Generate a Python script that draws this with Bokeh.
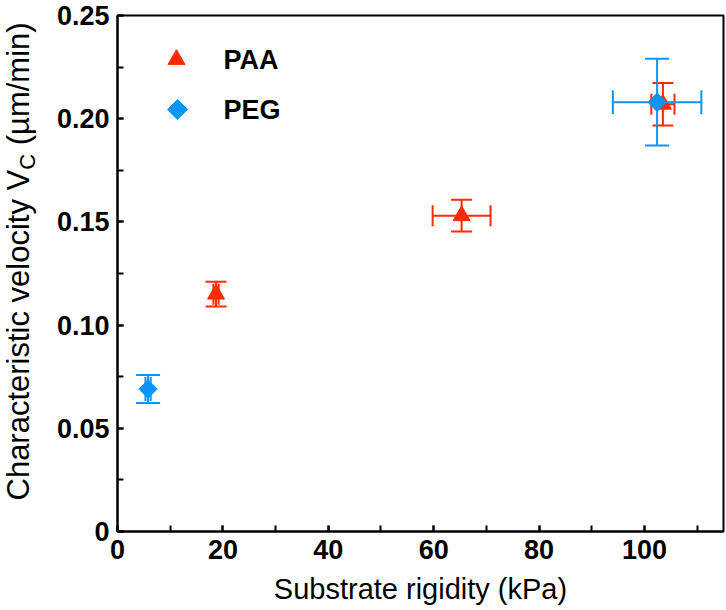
import math
from bokeh.plotting import figure
from bokeh.layouts import row
from bokeh.models import (ColumnDataSource, Whisker, TeeHead, FixedTicker, NumeralTickFormatter,
                          Label, Range1d)
from bokeh.embed import file_html
from bokeh.resources import INLINE

# ---- data ----
paa_x = [18.7, 65.3, 103.5]
paa_y = [0.115, 0.153, 0.207]
paa_xerr = [0.5, 5.5, 2.2]
paa_yerr = [0.006, 0.0077, 0.0103]

peg_x = [5.8, 102.4]
peg_y = [0.069, 0.208]
peg_xerr = [0.5, 8.4]
peg_yerr = [0.0068, 0.021]

x_ticks = [0, 20, 40, 60, 80, 100]
y_ticks = [0, 0.05, 0.10, 0.15, 0.20, 0.25]
series_names = ["PAA", "PEG"]

RED = "#ff2a00"
BLUE = "#0a96f8"
FONT = "Liberation Sans"

# ---- geometry ----
LEFT_W = 40             # width of the y-label strip
W, H = 726, 610
FL, FR, FT, FB = 117, 723, 15, 531   # frame edges in page pixels
XMAX, YMAX = 115, 0.25


def make_src(x, y, xe, ye):
    return ColumnDataSource(dict(
        x=x, y=y,
        xlo=[a - e for a, e in zip(x, xe)], xhi=[a + e for a, e in zip(x, xe)],
        ylo=[a - e for a, e in zip(y, ye)], yhi=[a + e for a, e in zip(y, ye)],
    ))


src_paa = make_src(paa_x, paa_y, paa_xerr, paa_yerr)
src_peg = make_src(peg_x, peg_y, peg_xerr, peg_yerr)

p = figure(width=W - LEFT_W, height=H, output_backend="svg", toolbar_location=None,
           x_range=Range1d(0, XMAX), y_range=Range1d(0, YMAX),
           min_border_left=FL - LEFT_W, min_border_right=W - FR, min_border_top=FT,
           min_border_bottom=H - FB)
p.grid.visible = False
p.outline_line_color = "black"
p.outline_line_width = 2
p.background_fill_color = "white"
p.border_fill_color = "white"

for ax in (p.xaxis[0], p.yaxis[0]):
    ax.axis_line_width = 2
    ax.axis_line_color = "black"
    ax.major_tick_in = 6
    ax.major_tick_out = 0
    ax.minor_tick_in = 6
    ax.minor_tick_out = 0
    ax.major_tick_line_width = 2
    ax.minor_tick_line_width = 2
    ax.major_label_text_font = FONT
    ax.major_label_text_font_style = "bold"
    ax.major_label_text_font_size = "27px"
    ax.major_label_text_color = "black"
    ax.major_label_standoff = 8

p.xaxis.ticker = FixedTicker(ticks=x_ticks, minor_ticks=list(range(0, 120, 10)))
p.yaxis.ticker = FixedTicker(ticks=y_ticks, minor_ticks=[i * 0.025 for i in range(11)])
p.yaxis.formatter = NumeralTickFormatter(format="0.00")
p.yaxis.major_label_overrides = {0: "0"}

p.xaxis.axis_label = "Substrate rigidity (kPa)"
p.xaxis.axis_label_text_font = FONT
p.xaxis.axis_label_text_font_style = "normal"
p.xaxis.axis_label_text_font_size = "29px"
p.xaxis.axis_label_text_color = "black"
p.xaxis.axis_label_standoff = 11


def add_errors(src, color, cap):
    for dim, base, lo, hi in (("height", "x", "ylo", "yhi"), ("width", "y", "xlo", "xhi")):
        w = Whisker(base=base, lower=lo, upper=hi, dimension=dim, source=src,
                    line_color=color, line_width=2, level="glyph",
                    upper_head=TeeHead(size=cap, line_color=color, line_width=2),
                    lower_head=TeeHead(size=cap, line_color=color, line_width=2))
        p.renderers.append(w)


add_errors(src_paa, RED, 21)
p.scatter("x", "y", source=src_paa, marker="triangle", size=17,
          fill_color=RED, line_color=RED, line_width=1)
add_errors(src_peg, BLUE, 24)
p.scatter("x", "y", source=src_peg, marker="square", angle=math.pi / 4, size=13,
          fill_color=BLUE, line_color=BLUE, line_width=1)


# ---- legend (drawn by hand so the diamond keeps its rotation) ----
def px_to_x(px):
    return (px - FL) * XMAX / (FR - FL)


def py_to_y(py):
    return (FB - py) * YMAX / (FB - FT)


leg_rows = [59, 109]
p.scatter([px_to_x(176)], [py_to_y(leg_rows[0])], marker="triangle", size=17,
          fill_color=RED, line_color=RED)
p.scatter([px_to_x(177)], [py_to_y(leg_rows[1])], marker="square", angle=math.pi / 4, size=14,
          fill_color=BLUE, line_color=BLUE)
for name, ry in zip(series_names, leg_rows):
    p.add_layout(Label(x=223 - FL, y=FB - ry, x_units="screen", y_units="screen", text=name,
                       text_font=FONT, text_font_style="bold", text_font_size="27px",
                       text_align="left", text_baseline="middle", text_color="black"))

# ---- y-axis label strip (title with subscript) ----
# its frame is aligned with the main frame; data y = page pixel row mirrored
q = figure(width=LEFT_W, height=H, output_backend="svg", toolbar_location=None,
           x_range=Range1d(0, LEFT_W), y_range=Range1d(H - FB, H - FT),
           x_axis_location=None, y_axis_location=None,
           min_border_left=0, min_border_right=0, min_border_top=FT,
           min_border_bottom=H - FB)
q.grid.visible = False
q.outline_line_color = None
q.background_fill_color = "white"
q.border_fill_color = "white"

f = 31
fs_sub = 22
top_x = 0.0
sub_top_x = top_x + 0.905 * f + 6 - 0.905 * fs_sub
y_start = 500
w1 = 10.669 * f
w2 = 0.722 * fs_sub
gap = 0.278 * f
parts = [
    ("Characteristic velocity V", top_x, y_start, f),
    ("C", sub_top_x, y_start - w1, fs_sub),
    ("(\u00b5m/min)", top_x, y_start - w1 - w2 - gap, f),
]
for txt, lx, ly, fs in parts:
    q.add_layout(Label(x=lx, y=H - ly, text=txt, angle=math.pi / 2, text_font=FONT,
                       text_font_size=f"{fs:.0f}px", text_align="left",
                       text_baseline="top", text_color="black"))

layout = row(q, p, spacing=0)
open("out.html", "w").write(file_html(layout, INLINE))
